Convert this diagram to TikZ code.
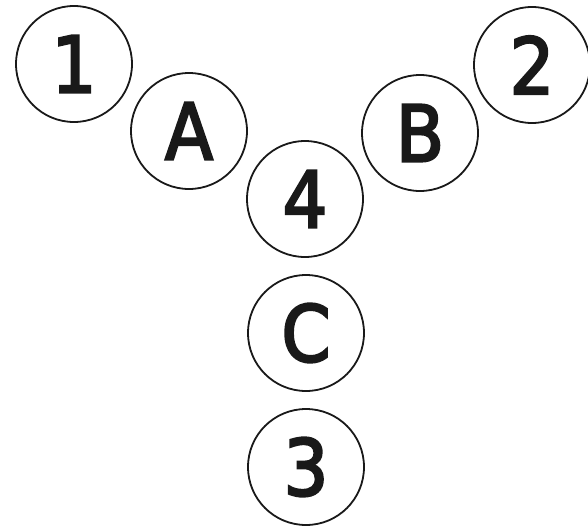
\documentclass[tikz,border=0pt]{standalone}
\usepackage{fontspec}
\setmainfont{DejaVu Sans Condensed}[BoldFont={DejaVu Sans Condensed},BoldFeatures={FakeBold=3}]
\begin{document}
\begin{tikzpicture}[x=1pt,y=-1pt,
  ball/.style={circle,draw=black!90,line width=1.8pt,minimum size=116pt,inner sep=0pt,
    font=\fontsize{78}{78}\selectfont\bfseries,text=black!90}]
\useasboundingbox (0,0) rectangle (588,527);
\node[ball] (n1) at (74,64) {1};
\node[ball] (nA) at (189,131) {A};
\node[ball] (n4) at (305,199) {4};
\node[ball] (nB) at (420,133) {B};
\node[ball] (n2) at (532,65) {2};
\node[ball] (nC) at (306,333) {C};
\node[ball] (n3) at (306,467) {3};
\end{tikzpicture}
\end{document}
